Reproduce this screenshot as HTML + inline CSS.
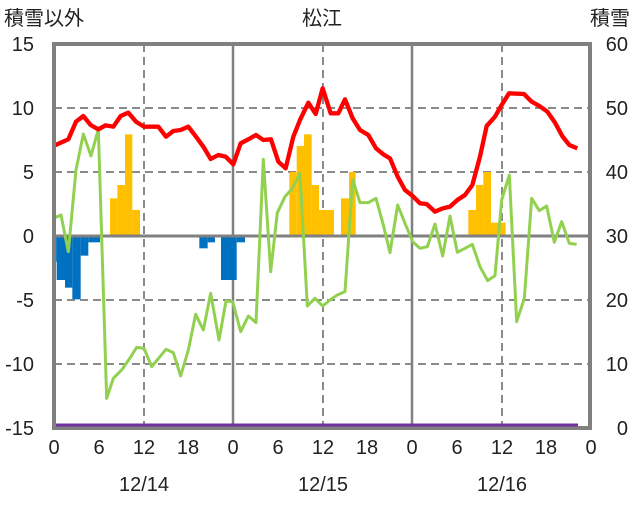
<!DOCTYPE html><html><head><style>body{margin:0;background:#fff}svg text{font-family:"Liberation Sans","Noto Sans CJK JP",sans-serif;fill:#222}</style></head><body>
<svg width="636" height="501" viewBox="0 0 636 501" xmlns="http://www.w3.org/2000/svg">
<rect width="636" height="501" fill="#fff"/>
<g stroke="#8a8a8a" stroke-width="2" stroke-dasharray="8,5" fill="none">
<line x1="54" y1="108" x2="590" y2="108"/><line x1="54" y1="172" x2="590" y2="172"/><line x1="54" y1="300" x2="590" y2="300"/><line x1="54" y1="364" x2="590" y2="364"/>
<line x1="144" y1="44" x2="144" y2="428"/><line x1="323" y1="44" x2="323" y2="428"/><line x1="502" y1="44" x2="502" y2="428"/>
</g>
<g stroke="#808080" stroke-width="2.5"><line x1="233" y1="44" x2="233" y2="428"/><line x1="412" y1="44" x2="412" y2="428"/></g>
<g transform="translate(40,40) scale(0.33333)" fill="#FFC000">
<rect x="210" y="475" width="22" height="113"/><rect x="232" y="435" width="23" height="153"/><rect x="255" y="283" width="22" height="305"/><rect x="277" y="510" width="23" height="78"/>
<rect x="748" y="396" width="22" height="192"/><rect x="770" y="318" width="22" height="270"/><rect x="792" y="283" width="23" height="305"/><rect x="815" y="435" width="22" height="153"/><rect x="837" y="510" width="45" height="78"/>
<rect x="903" y="475" width="24" height="113"/><rect x="927" y="396" width="20" height="192"/>
<rect x="1285" y="510" width="23" height="78"/><rect x="1308" y="435" width="22" height="153"/><rect x="1330" y="396" width="23" height="192"/><rect x="1353" y="548" width="44" height="40"/>
</g>
<g transform="translate(40,40) scale(0.33333)" fill="#0070C0">
<rect x="40" y="588" width="10" height="77"/><rect x="50" y="588" width="25" height="132"/><rect x="75" y="588" width="22" height="155"/><rect x="97" y="588" width="25" height="190"/><rect x="122" y="588" width="23" height="59"/><rect x="145" y="588" width="35" height="19"/>
<rect x="478" y="588" width="25" height="37"/><rect x="503" y="588" width="22" height="19"/><rect x="543" y="588" width="47" height="132"/><rect x="590" y="588" width="25" height="19"/>
</g>
<line x1="54" y1="236" x2="590" y2="236" stroke="#808080" stroke-width="3"/>
<g transform="translate(40,40) scale(0.33333)" fill="none" stroke-linejoin="round">
<polyline stroke="#92D050" stroke-width="9" points="40,535 63,525 85,635 108,390 130,282 153,348 175,268 200,1075 220,1015 245,990 268,957 290,922 312,925 335,980 378,928 400,938 422,1008 445,930 467,823 490,870 512,760 537,900 558,783 578,785 602,875 625,828 648,848 670,358 692,695 712,518 735,470 757,445 780,400 802,798 825,775 848,798 870,780 892,765 915,755 938,418 960,488 985,488 1008,475 1030,555 1050,638 1073,495 1095,550 1118,605 1140,625 1162,620 1185,552 1208,648 1230,528 1252,637 1275,625 1297,613 1320,680 1343,722 1365,707 1385,480 1408,405 1430,845 1453,775 1475,475 1498,512 1520,498 1543,607 1565,545 1588,610 1610,613"/>
<polyline stroke="#FF0000" stroke-width="13" points="40,318 85,298 108,245 130,228 152,255 175,268 197,256 220,260 242,228 265,218 288,245 312,260 355,260 378,290 400,273 422,270 445,260 468,290 490,320 512,357 535,345 557,350 580,373 602,310 625,298 648,285 670,300 693,298 715,365 737,385 760,290 780,240 805,188 827,222 848,145 872,220 895,220 915,178 938,235 960,270 985,285 1008,325 1030,343 1050,355 1073,410 1095,450 1118,468 1140,490 1160,492 1185,515 1208,505 1230,500 1252,480 1275,465 1297,435 1320,350 1340,258 1365,230 1385,195 1407,160 1452,162 1475,185 1498,198 1522,215 1545,248 1568,290 1588,315 1612,325"/>
</g>
<rect x="54" y="44" width="536" height="384" fill="none" stroke="#808080" stroke-width="4"/>
<line x1="56" y1="425" x2="578" y2="425" stroke="#7030A0" stroke-width="3"/>
<g font-size="20" text-anchor="end">
<text x="34" y="51">15</text><text x="34" y="115">10</text><text x="34" y="179">5</text><text x="34" y="243">0</text><text x="34" y="307">-5</text><text x="34" y="371">-10</text><text x="34" y="435">-15</text>
</g>
<g font-size="20" text-anchor="end">
<text x="628" y="51">60</text><text x="628" y="115">50</text><text x="628" y="179">40</text><text x="628" y="243">30</text><text x="628" y="307">20</text><text x="628" y="371">10</text><text x="628" y="435">0</text>
</g>
<g font-size="20" text-anchor="middle">
<text x="54" y="454">0</text><text x="99" y="454">6</text><text x="144" y="454">12</text><text x="188" y="454">18</text><text x="233" y="454">0</text><text x="278" y="454">6</text><text x="323" y="454">12</text><text x="367" y="454">18</text><text x="412" y="454">0</text><text x="457" y="454">6</text><text x="502" y="454">12</text><text x="546" y="454">18</text><text x="591" y="454">0</text>
<text x="144" y="491">12/14</text><text x="323" y="491">12/15</text><text x="502" y="491">12/16</text>
<text x="322" y="25">松江</text>
</g>
<text x="4" y="25" font-size="20">積雪以外</text>
<text x="590" y="25" font-size="20">積雪</text>
</svg></body></html>
